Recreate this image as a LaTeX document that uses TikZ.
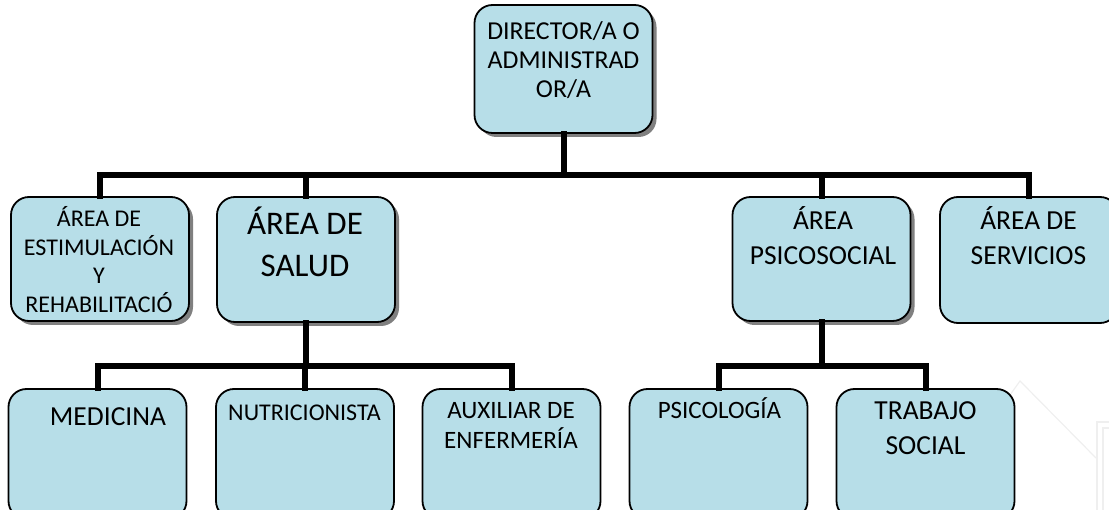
\documentclass[tikz,border=0pt]{standalone}
\usepackage{fontspec}
\setmainfont{Carlito}
\usetikzlibrary{shadows}
\definecolor{boxfill}{HTML}{B7DEE8}
\definecolor{wm}{HTML}{EFEFEF}
\tikzset{
  orgbox/.style={draw=black, line width=1.8pt, fill=boxfill, rounded corners=18pt,
    minimum width=178pt, inner sep=0pt},
  shadowed/.style={general shadow={fill=black!50, shadow xshift=4pt, shadow yshift=-4pt}},
  conn/.style={line width=6pt, line join=miter, line cap=rect},
  txtT/.style={anchor=base, inner sep=0pt, font=\fontsize{25.8}{28.6}\selectfont},
  txtS/.style={anchor=base, inner sep=0pt, font=\fontsize{24}{28.6}\selectfont},
  txtA/.style={anchor=base, inner sep=0pt, font=\fontsize{25}{30}\selectfont},
  txtM/.style={anchor=base, inner sep=0pt, font=\fontsize{27.5}{35}\selectfont},
  txtL/.style={anchor=base, inner sep=0pt, font=\fontsize{33}{41.5}\selectfont},
  wmline/.style={draw=wm, line width=1.2pt}
}
\newcommand{\lines}[1]{\begin{tabular}[t]{@{}c@{}}#1\end{tabular}}
\begin{document}
\begin{tikzpicture}[x=1pt,y=-1pt]
\useasboundingbox (0,0) rectangle (1109,510);
\begin{scope}
\clip (0,0) rectangle (1109,510);
% faint watermark
\draw[wmline] (1010,395) -- (1020,381) -- (1096,458);
\draw[wmline] (1097,520) -- (1097,422) -- (1109,422);
\draw[wmline] (1103,520) -- (1103,428) -- (1109,428);

% level 1
\node[orgbox, shadowed, minimum height=128pt] (top) at (563.5,69) {};
% level 2
\node[orgbox, shadowed, minimum height=124pt] (est) at (100,259) {};
\node[orgbox, shadowed, minimum height=125pt] (salud) at (306,259.5) {};
\node[orgbox, shadowed, minimum height=124pt] (psico) at (821.5,259) {};
\node[orgbox, minimum height=126pt] (serv) at (1029,260) {};
% level 3
\node[orgbox, minimum height=130pt] (med) at (97.5,454) {};
\node[orgbox, minimum height=130pt] (nut) at (305,454) {};
\node[orgbox, minimum height=130pt] (aux) at (511.5,454) {};
\node[orgbox, minimum height=130pt] (psi) at (718.5,454) {};
\node[orgbox, minimum height=130pt] (ts) at (925.5,454) {};

% connectors
\coordinate (bar1) at (0,175.5);
\coordinate (bar2) at (0,366);
\draw[conn] (top.south) -- (top.south |- bar1);
\draw[conn] (est.north) -- (est.north |- bar1) -- (serv.north |- bar1) -- (serv.north);
\draw[conn] (salud.north) -- (salud.north |- bar1);
\draw[conn] (psico.north) -- (psico.north |- bar1);
\draw[conn] (salud.south) -- (salud.south |- bar2);
\draw[conn] (med.north) -- (med.north |- bar2) -- (aux.north |- bar2) -- (aux.north);
\draw[conn] (nut.north) -- (nut.north |- bar2);
\draw[conn] (psico.south) -- (psico.south |- bar2);
\draw[conn] (psi.north) -- (psi.north |- bar2) -- (ts.north |- bar2) -- (ts.north);

% texts
\node[txtT] (ttop) at (563.5,40) {\lines{DIRECTOR/A O\\ADMINISTRAD\\OR/A}};
\node[txtS] (test) at (99,226.5) {\lines{ÁREA DE\\ESTIMULACIÓN\\Y\\REHABILITACIÓ}};
\node[txtL] (tsalud) at (305,235) {\lines{ÁREA DE\\SALUD}};
\node[txtM] (tpsico) at (823,230) {\lines{ÁREA\\PSICOSOCIAL}};
\node[txtM] (tserv) at (1028.5,230) {\lines{ÁREA DE\\SERVICIOS}};
\node[txtM] (tmed) at (108,426) {MEDICINA};
\node[txtS] (tnut) at (304.5,421) {NUTRICIONISTA};
\node[txtA] (taux) at (511,418.5) {\lines{AUXILIAR DE\\ENFERMERÍA}};
\node[txtA] (tpsi) at (719.5,418.5) {PSICOLOGÍA};
\node[txtM] (tts) at (925.5,420) {\lines{TRABAJO\\SOCIAL}};
\end{scope}
\end{tikzpicture}
\end{document}
